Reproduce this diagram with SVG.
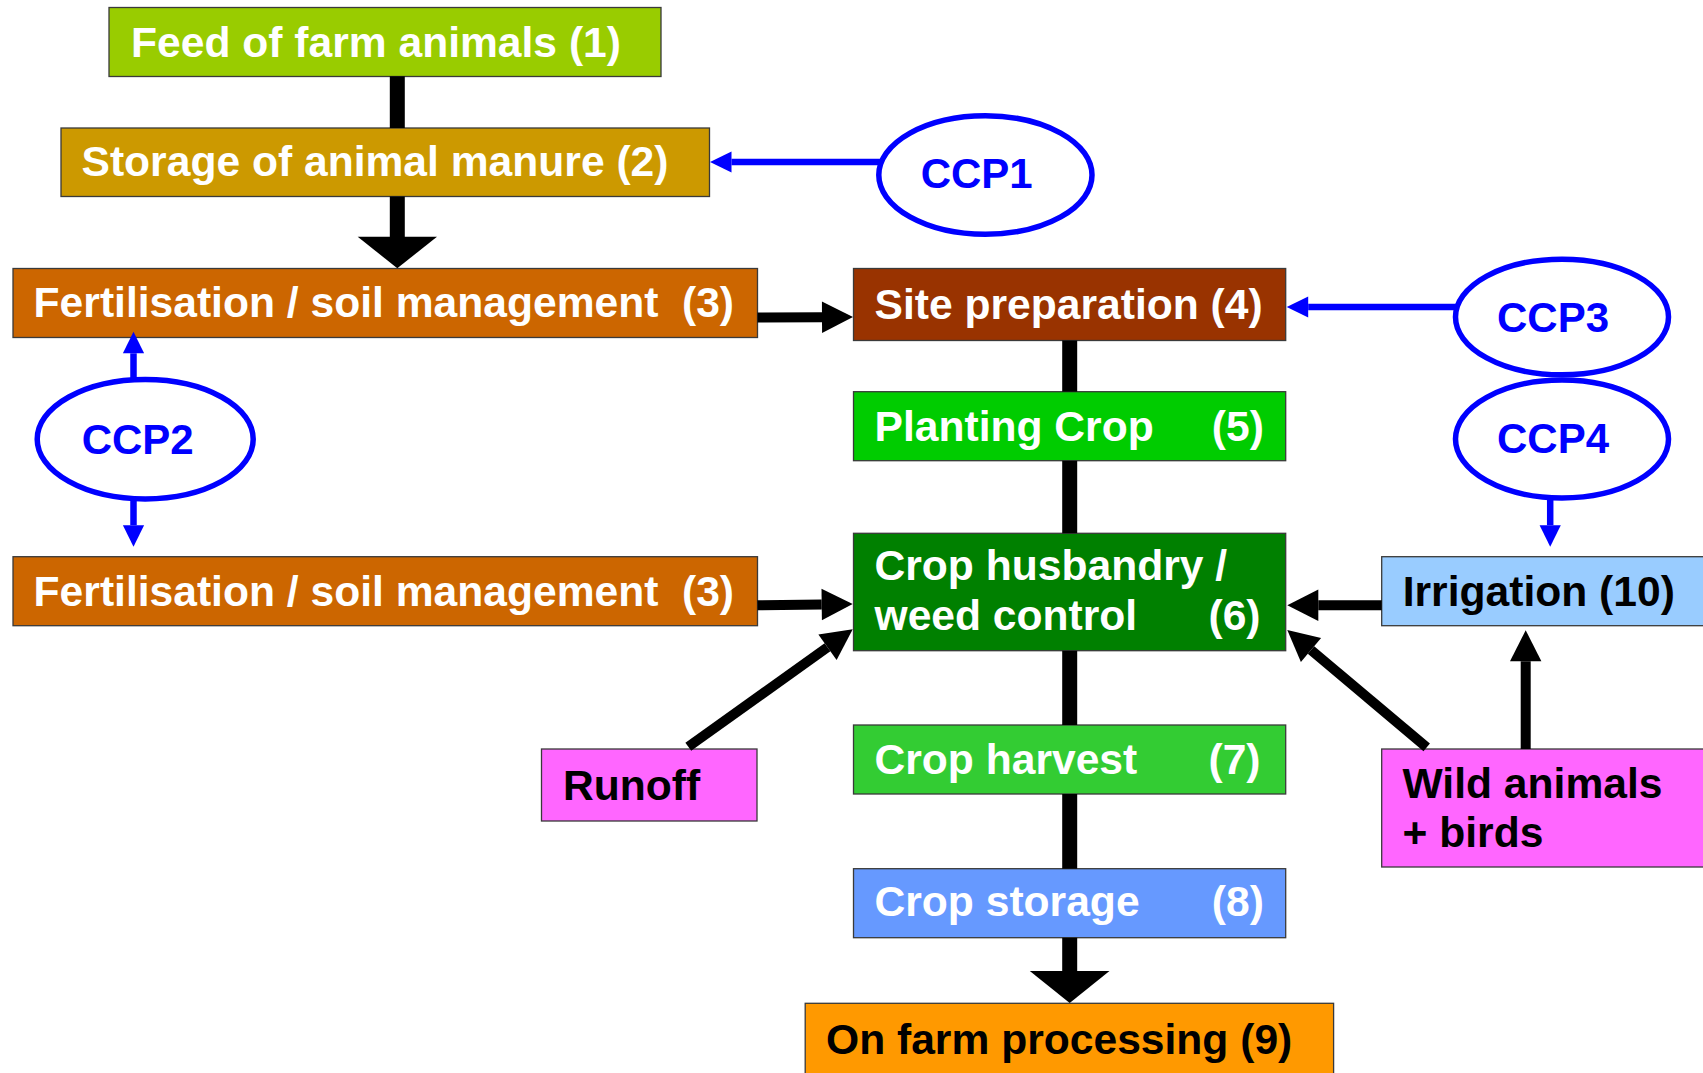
<svg xmlns="http://www.w3.org/2000/svg" width="1703" height="1073" viewBox="0 0 1703 1073">
<style>
.box{stroke:#3a3a3a;stroke-width:1.3}
.t{font-family:"Liberation Sans",Arial,sans-serif;font-weight:bold;font-size:42.6px}
.w{fill:#ffffff}
.k{fill:#000000}
.b{fill:#0000ff;font-size:42px}
.ccp{fill:#ffffff;stroke:#0000ff;stroke-width:5.5}
.thick{stroke:#000;stroke-width:15;fill:none}
.blk{stroke:#000;stroke-width:10;fill:none}
.blu{stroke:#0000ff;stroke-width:6.5;fill:none}
</style>
<defs>
<marker id="ah" markerUnits="userSpaceOnUse" markerWidth="32" markerHeight="32" viewBox="0 -16 32 32" refX="0" refY="0" orient="auto" overflow="visible">
<path d="M0,-15.7 L31,0 L0,15.7 z" fill="#000"/>
</marker>
<marker id="bh" markerUnits="userSpaceOnUse" markerWidth="22" markerHeight="22" viewBox="0 -11 22 22" refX="0" refY="0" orient="auto" overflow="visible">
<path d="M0,-10.6 L21.5,0 L0,10.6 z" fill="#0000ff"/>
</marker>
</defs>
<rect x="0" y="0" width="1703" height="1073" fill="#ffffff"/>

<g id="n1"><rect class="box" x="109" y="7.5" width="552" height="69" fill="#99cc00"/><text class="t w" x="131" y="57">Feed of farm animals (1)</text></g>
<g id="n2"><rect class="box" x="61" y="128" width="648.5" height="68.5" fill="#cc9900"/><text class="t w" x="81.5" y="176">Storage of animal manure (2)</text></g>
<g id="n3a"><rect class="box" x="13" y="268.5" width="744.5" height="69" fill="#cc6600"/><text class="t w" x="33.6" y="317">Fertilisation / soil management</text><text class="t w" x="682" y="317">(3)</text></g>
<g id="n3b"><rect class="box" x="13" y="556.7" width="744.5" height="69" fill="#cc6600"/><text class="t w" x="33.6" y="605.5">Fertilisation / soil management</text><text class="t w" x="682" y="605.5">(3)</text></g>
<g id="n4"><rect class="box" x="853.5" y="268.5" width="432.2" height="72" fill="#993300"/><text class="t w" x="874.5" y="318.5">Site preparation (4)</text></g>
<g id="n5"><rect class="box" x="853.5" y="391.7" width="432.2" height="69" fill="#00cc00"/><text class="t w" x="874.5" y="441">Planting Crop</text><text class="t w" x="1211.8" y="441">(5)</text></g>
<g id="n6"><rect class="box" x="853.5" y="533.3" width="432.2" height="117.4" fill="#008000"/><text class="t w" x="874.5" y="579.5">Crop husbandry /</text><text class="t w" x="874.5" y="630">weed control</text><text class="t w" x="1208.5" y="630">(6)</text></g>
<g id="n7"><rect class="box" x="853.5" y="725" width="432.2" height="69" fill="#33cc33"/><text class="t w" x="874.5" y="773.5">Crop harvest</text><text class="t w" x="1208.5" y="773.5">(7)</text></g>
<g id="n8"><rect class="box" x="853.5" y="868.7" width="432.2" height="69" fill="#6699ff"/><text class="t w" x="874.5" y="916">Crop storage</text><text class="t w" x="1211.8" y="916">(8)</text></g>
<g id="n9"><rect class="box" x="805.2" y="1003.3" width="528.4" height="90" fill="#ff9900"/><text class="t k" x="826" y="1054">On farm processing (9)</text></g>
<g id="n10"><rect class="box" x="1381.7" y="556.7" width="340" height="69" fill="#99ccff"/><text class="t k" x="1402.7" y="605.5">Irrigation (10)</text></g>
<g id="runoff"><rect class="box" x="541.5" y="749" width="215.5" height="72" fill="#ff66ff"/><text class="t k" x="563" y="800">Runoff</text></g>
<g id="wild"><rect class="box" x="1381.7" y="749" width="340" height="118" fill="#ff66ff"/><text class="t k" x="1402.5" y="798.3">Wild animals</text><text class="t k" x="1402.5" y="847">+ birds</text></g>

<g id="ccp1"><ellipse class="ccp" cx="985.4" cy="175" rx="106.6" ry="59.2"/><text class="t b" x="920.7" y="187.7">CCP1</text></g>
<g id="ccp2"><ellipse class="ccp" cx="145.2" cy="439.2" rx="108" ry="59.7"/><text class="t b" x="81.7" y="454">CCP2</text></g>
<g id="ccp3"><ellipse class="ccp" cx="1562" cy="317" rx="106.5" ry="57.8"/><text class="t b" x="1497" y="332">CCP3</text></g>
<g id="ccp4"><ellipse class="ccp" cx="1562" cy="439" rx="106.5" ry="59"/><text class="t b" x="1497" y="452.8">CCP4</text></g>

<g id="connectors">
<line class="thick" x1="397.3" y1="76.3" x2="397.3" y2="128"/>
<line class="thick" x1="397.3" y1="196.5" x2="397.3" y2="237.5"/>
<polygon points="357.7,236.7 437,236.7 397.3,268.3" fill="#000"/>
<line class="thick" x1="1069.7" y1="340.5" x2="1069.7" y2="391.7"/>
<line class="thick" x1="1069.7" y1="460.7" x2="1069.7" y2="533.3"/>
<line class="thick" x1="1069.7" y1="650.7" x2="1069.7" y2="725"/>
<line class="thick" x1="1069.7" y1="794" x2="1069.7" y2="868.7"/>
<line class="thick" x1="1069.7" y1="937.7" x2="1069.7" y2="972"/>
<polygon points="1029.8,971 1109.5,971 1069.7,1003" fill="#000"/>

<line class="blk" x1="757.5" y1="317.5" x2="822" y2="317.2" marker-end="url(#ah)"/>
<line class="blk" x1="757.5" y1="605.3" x2="821.7" y2="604.5" marker-end="url(#ah)"/>
<line class="blk" x1="688.3" y1="746.7" x2="827.5" y2="647.3" marker-end="url(#ah)"/>
<line class="blk" x1="1381.7" y1="605.2" x2="1318.3" y2="605.2" marker-end="url(#ah)"/>
<line class="blk" x1="1426.7" y1="747.3" x2="1311" y2="650" marker-end="url(#ah)"/>
<line class="blk" x1="1525.7" y1="749" x2="1525.7" y2="661.2" marker-end="url(#ah)"/>

<line class="blu" x1="881" y1="162" x2="731.5" y2="162" marker-end="url(#bh)"/>
<line class="blu" x1="1456" y1="307" x2="1308.2" y2="307" marker-end="url(#bh)"/>
<line class="blu" x1="133.5" y1="380" x2="133.5" y2="353.3" marker-end="url(#bh)"/>
<line class="blu" x1="133.5" y1="498" x2="133.5" y2="525.2" marker-end="url(#bh)"/>
<line class="blu" x1="1550.2" y1="498" x2="1550.2" y2="525.2" marker-end="url(#bh)"/>
</g>
</svg>
